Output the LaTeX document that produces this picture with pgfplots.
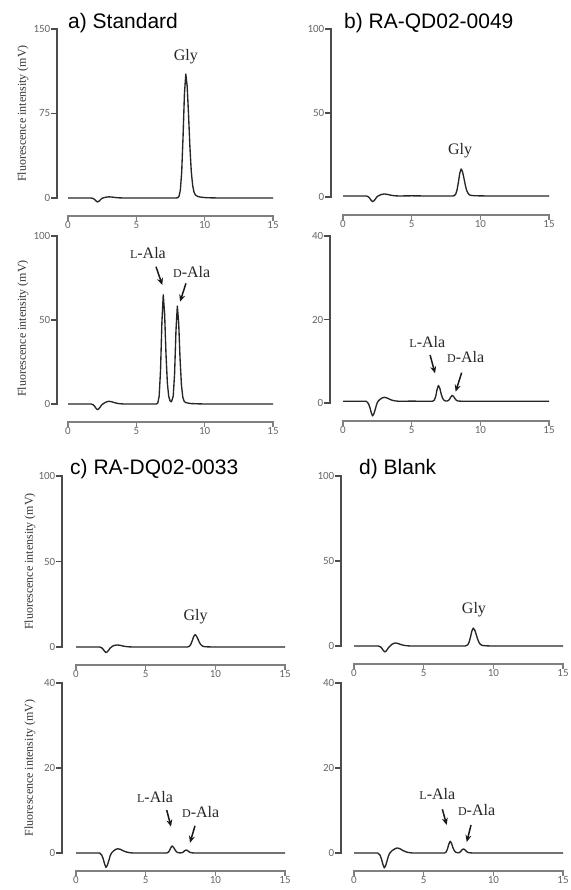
\documentclass[border=0pt]{standalone}
\usepackage{fontspec}
\setmainfont{Liberation Serif}
\newfontfamily\titlefont{Liberation Sans}
\newfontfamily\tickfont{Carlito}
\usepackage{pgfplots}
\pgfplotsset{compat=1.18}
\usetikzlibrary{arrows.meta}

\tikzset{
 yaxs/.style={draw=black!70, line width=1.3pt, line cap=rect},
 xaxs/.style={draw=black!50, line width=1.3pt, line cap=rect},
 tlab/.style={font=\tickfont\fontsize{11}{11}\selectfont, text=black!60, inner sep=1.5pt},
 ttl/.style={font=\titlefont\fontsize{21}{21}\selectfont, anchor=base west, inner sep=0pt},
 pk/.style={font=\fontsize{16}{16}\selectfont, inner sep=0pt, text=black!85},
 arr/.style={-{Stealth[length=7pt,width=6pt]}, line width=1.5pt, black!90},
 ylab/.style={rotate=90, font=\fontsize{12}{12}\selectfont, text=black!80},
 trace/.style={black!85, line width=1.35pt, line join=round},
}
\pgfplotsset{panel/.style={scale only axis, hide axis, xmin=0, xmax=15, ymin=0, clip=false, anchor=south west}}
\newcommand{\Lsc}{{\fontsize{12}{12}\selectfont L}}
\newcommand{\Dsc}{{\fontsize{12}{12}\selectfont D}}
% #1 ymid, #2 ymax, #3 y-axis x, #4 y-tick end x, #5 x-axis y, #6 x-tick end y
\newcommand{\prismaxes}[6]{%
  \draw[yaxs] (axis cs:#3,0) -- (axis cs:#3,#2);
  \draw[yaxs] (axis cs:#3,0) -- (axis cs:#4,0);
  \draw[yaxs] (axis cs:#3,#1) -- (axis cs:#4,#1);
  \draw[yaxs] (axis cs:#3,#2) -- (axis cs:#4,#2);
  \node[left,tlab] at (axis cs:#4,0) {0};
  \node[left,tlab] at (axis cs:#4,#1) {#1};
  \node[left,tlab] at (axis cs:#4,#2) {#2};
  \draw[xaxs] (axis cs:0,#5) -- (axis cs:15,#5);
  \draw[xaxs] (axis cs:0,#5) -- (axis cs:0,#6);
  \draw[xaxs] (axis cs:5,#5) -- (axis cs:5,#6);
  \draw[xaxs] (axis cs:10,#5) -- (axis cs:10,#6);
  \draw[xaxs] (axis cs:15,#5) -- (axis cs:15,#6);
  \node[below,tlab] at (axis cs:0,#6) {0};
  \node[below,tlab] at (axis cs:5,#6) {5};
  \node[below,tlab] at (axis cs:10,#6) {10};
  \node[below,tlab] at (axis cs:15,#6) {15};
}

\begin{document}
\begin{tikzpicture}
\useasboundingbox (0,0) rectangle (570pt,890pt);

% ---------- a) top ----------
\begin{axis}[panel, at={(68pt,692pt)}, width=205pt, height=169pt, ymax=150]
\addplot[trace] coordinates {(0,0)(1.7,0)(1.85,-0.5)(1.95,-1.4)(2.05,-2.6)(2.15,-3.5)(2.25,-3.0)(2.35,-1.9)(2.45,-0.7)(2.55,0)(2.7,0.5)(2.85,0.85)(3.0,1.0)(3.2,0.85)(3.4,0.5)(3.6,0.25)(3.8,0.1)(4.1,0)(5,0)(6,0)(7,0)(7.9,0)(8.02,0.2)(8.12,1.4)(8.22,6.9)(8.32,23.2)(8.42,55)(8.52,92.5)(8.62,110)(8.72,99.2)(8.82,74)(8.92,45.5)(9.02,23.5)(9.12,11.3)(9.22,5.1)(9.32,2.7)(9.5,1.3)(9.8,0.6)(10.2,0.2)(11,0)(15,0)};
\prismaxes{75}{150}{-0.805}{-1.171}{-15.98}{-19.53}
\node[pk] at (axis cs:8.63,125) {Gly};
\node[ylab] at (axis cs:-3.29,75) {Fluorescence intensity (mV)};
\end{axis}

% ---------- a) bottom ----------
\begin{axis}[panel, at={(68pt,486pt)}, width=205pt, height=168pt, ymax=100]
\addplot[trace] coordinates {(0,0)(1.7,0)(1.85,-0.5)(1.95,-1.4)(2.05,-2.55)(2.15,-3.4)(2.25,-2.9)(2.35,-1.9)(2.45,-0.7)(2.55,0)(2.7,0.8)(2.85,1.35)(3.0,1.6)(3.2,1.35)(3.4,0.8)(3.6,0.4)(3.8,0.15)(4.1,0)(5,0)(6,0)(6.47,0)(6.57,0.6)(6.67,4.6)(6.77,19.9)(6.87,48.4)(6.97,65)(7.07,53.5)(7.17,29.8)(7.27,12.5)(7.37,4.5)(7.47,1.8)(7.57,1.3)(7.7,4.7)(7.8,18.2)(7.9,43.6)(8.0,58.3)(8.1,48)(8.2,26.8)(8.3,11.3)(8.4,4.0)(8.5,1.6)(8.6,0.9)(8.8,0.5)(9.0,0.25)(9.5,0.1)(10,0)(15,0)};
\prismaxes{50}{100}{-0.805}{-1.171}{-10.71}{-13.10}
\node[pk] at (axis cs:5.85,90) {\Lsc-Ala};
\node[pk] at (axis cs:9.05,78.8) {\Dsc-Ala};
\draw[arr] (axis cs:6.44,81.7) -- (axis cs:6.9,70.8);
\draw[arr] (axis cs:8.63,71.8) -- (axis cs:8.2,60.9);
\node[ylab] at (axis cs:-3.29,45) {Fluorescence intensity (mV)};
\end{axis}

% ---------- b) top ----------
\begin{axis}[panel, at={(343pt,693pt)}, width=206pt, height=168pt, ymax=100]
\addplot[trace] coordinates {(0,0.6)(1.7,0.6)(1.85,0.1)(1.95,-0.8)(2.05,-1.95)(2.15,-2.8)(2.25,-2.3)(2.35,-1.3)(2.45,-0.1)(2.55,0.6)(2.7,1.2)(2.85,1.6)(3.0,1.8)(3.2,1.6)(3.4,1.2)(3.6,0.9)(3.8,0.7)(4.1,0.6)(5,0.7)(6,0.6)(7,0.6)(8.0,0.6)(8.1,0.8)(8.2,1.6)(8.3,4.0)(8.4,8.65)(8.5,14.1)(8.6,16.7)(8.7,15.1)(8.8,11.4)(8.9,7.3)(9.0,4.0)(9.1,2.3)(9.2,1.3)(9.3,1.0)(9.5,0.8)(9.8,0.7)(10.5,0.6)(15,0.6)};
\prismaxes{50}{100}{-0.874}{-1.238}{-10.71}{-13.10}
\node[pk] at (axis cs:8.52,27.8) {Gly};
\end{axis}

% ---------- b) bottom ----------
\begin{axis}[panel, at={(343pt,487pt)}, width=206pt, height=167pt, ymax=40]
\addplot[trace] coordinates {(0,0.4)(1.7,0.4)(1.85,-0.13)(1.95,-1.0)(2.05,-2.23)(2.15,-3.1)(2.25,-2.58)(2.35,-1.53)(2.45,-0.3)(2.55,0.4)(2.7,0.88)(2.85,1.21)(3.0,1.35)(3.2,1.21)(3.4,0.88)(3.6,0.64)(3.8,0.5)(4.1,0.4)(5,0.45)(6,0.4)(6.5,0.4)(6.65,0.67)(6.75,1.56)(6.85,3.23)(6.95,4.2)(7.05,3.53)(7.15,2.14)(7.25,1.13)(7.35,0.66)(7.45,0.5)(7.55,0.46)(7.65,0.56)(7.75,0.85)(7.85,1.45)(7.95,1.81)(8.05,1.56)(8.15,1.05)(8.25,0.68)(8.35,0.5)(8.5,0.44)(9,0.4)(15,0.4)};
\prismaxes{20}{40}{-0.947}{-1.311}{-4.311}{-5.269}
\node[pk] at (axis cs:6.14,14.7) {\Lsc-Ala};
\node[pk] at (axis cs:8.93,10.9) {\Dsc-Ala};
\draw[arr] (axis cs:6.34,11.5) -- (axis cs:6.7,7.1);
\draw[arr] (axis cs:8.64,7.26) -- (axis cs:8.2,2.7);
\end{axis}

% ---------- c) top ----------
\begin{axis}[panel, at={(76pt,243pt)}, width=209pt, height=171pt, ymax=100]
\addplot[trace] coordinates {(0,0)(1.7,0)(1.85,-0.5)(1.95,-1.3)(2.05,-2.5)(2.15,-3.3)(2.25,-2.8)(2.35,-1.8)(2.45,-0.66)(2.55,0)(2.65,0.6)(2.8,1.0)(2.95,1.2)(3.15,1.0)(3.35,0.6)(3.55,0.3)(3.75,0.12)(4.05,0)(8.0,0)(8.14,0.45)(8.24,1.52)(8.34,3.6)(8.44,6.06)(8.54,7.2)(8.64,6.49)(8.74,4.85)(8.84,2.98)(8.94,1.54)(9.04,0.74)(9.14,0.33)(9.24,0.18)(9.44,0.09)(9.8,0)(15,0)};
\prismaxes{50}{100}{-1.005}{-1.364}{-10.53}{-12.87}
\node[pk] at (axis cs:8.59,18) {Gly};
\node[ylab] at (axis cs:-3.30,50) {Fluorescence intensity (mV)};
\end{axis}

% ---------- c) bottom ----------
\begin{axis}[panel, at={(76pt,37pt)}, width=209pt, height=170pt, ymax=40]
\addplot[trace] coordinates {(0,0)(1.7,0)(1.85,-0.5)(1.95,-1.36)(2.05,-2.55)(2.15,-3.4)(2.25,-2.9)(2.35,-1.87)(2.45,-0.68)(2.55,0)(2.7,0.5)(2.85,0.85)(3.0,1.0)(3.2,0.85)(3.4,0.5)(3.6,0.25)(3.8,0.1)(4.1,0)(6.5,0)(6.6,0.12)(6.7,0.5)(6.8,1.23)(6.9,1.65)(7.0,1.36)(7.1,0.76)(7.2,0.32)(7.3,0.11)(7.4,0.05)(7.5,0.03)(7.6,0.07)(7.7,0.23)(7.8,0.53)(7.9,0.71)(8.0,0.58)(8.1,0.32)(8.2,0.13)(8.3,0.05)(8.5,0)(15,0)};
\prismaxes{20}{40}{-1.005}{-1.364}{-4.235}{-5.176}
\node[pk] at (axis cs:5.67,13.2) {\Lsc-Ala};
\node[pk] at (axis cs:8.95,9.6) {\Dsc-Ala};
\draw[arr] (axis cs:6.51,10.1) -- (axis cs:6.82,6.2);
\draw[arr] (axis cs:8.54,6.4) -- (axis cs:8.18,2.4);
\node[ylab] at (axis cs:-3.30,20) {Fluorescence intensity (mV)};
\end{axis}

% ---------- d) top ----------
\begin{axis}[panel, at={(354pt,244pt)}, width=209pt, height=170pt, ymax=100]
\addplot[trace] coordinates {(0,0)(1.75,0)(1.9,-0.5)(2.0,-1.4)(2.1,-2.6)(2.2,-3.5)(2.3,-3.0)(2.4,-1.9)(2.5,-0.7)(2.6,0)(2.7,0.9)(2.85,1.5)(2.95,1.8)(3.15,1.5)(3.35,0.9)(3.55,0.45)(3.75,0.18)(4.05,0)(8.0,0)(8.16,0.66)(8.26,2.2)(8.36,5.25)(8.46,8.83)(8.56,10.5)(8.66,9.47)(8.76,7.07)(8.86,4.35)(8.96,2.25)(9.06,1.08)(9.16,0.48)(9.26,0.26)(9.46,0.13)(9.8,0)(15,0)};
\prismaxes{50}{100}{-0.933}{-1.292}{-10.59}{-12.94}
\node[pk] at (axis cs:8.61,21.3) {Gly};
\end{axis}

% ---------- d) bottom ----------
\begin{axis}[panel, at={(354pt,37pt)}, width=209pt, height=170pt, ymax=40]
\addplot[trace] coordinates {(0,0)(1.7,0)(1.87,-0.5)(1.97,-1.4)(2.07,-2.6)(2.17,-3.5)(2.27,-3.0)(2.37,-1.9)(2.47,-0.7)(2.57,0)(2.75,0.6)(2.95,1.0)(3.1,1.2)(3.3,1.0)(3.5,0.6)(3.7,0.3)(3.9,0.12)(4.2,0)(6.5,0)(6.6,0.19)(6.7,0.84)(6.8,2.05)(6.9,2.75)(7.0,2.26)(7.1,1.26)(7.2,0.53)(7.3,0.19)(7.4,0.08)(7.5,0.05)(7.55,0.1)(7.65,0.32)(7.75,0.73)(7.85,0.96)(7.95,0.79)(8.05,0.44)(8.15,0.18)(8.25,0.07)(8.5,0)(15,0)};
\prismaxes{20}{40}{-0.933}{-1.292}{-4.235}{-5.176}
\node[pk] at (axis cs:5.98,13.8) {\Lsc-Ala};
\node[pk] at (axis cs:8.8,10.1) {\Dsc-Ala};
\draw[arr] (axis cs:6.34,10.3) -- (axis cs:6.65,6.6);
\draw[arr] (axis cs:8.4,6.6) -- (axis cs:8.09,2.6);
\end{axis}

% ---------- titles ----------
\node[ttl] at (68pt,861pt) {a) Standard};
\node[ttl] at (344pt,861pt) {b) RA-QD02-0049};
\node[ttl] at (70pt,415pt) {c) RA-DQ02-0033};
\node[ttl] at (359pt,415pt) {d) Blank};
\end{tikzpicture}
\end{document}
